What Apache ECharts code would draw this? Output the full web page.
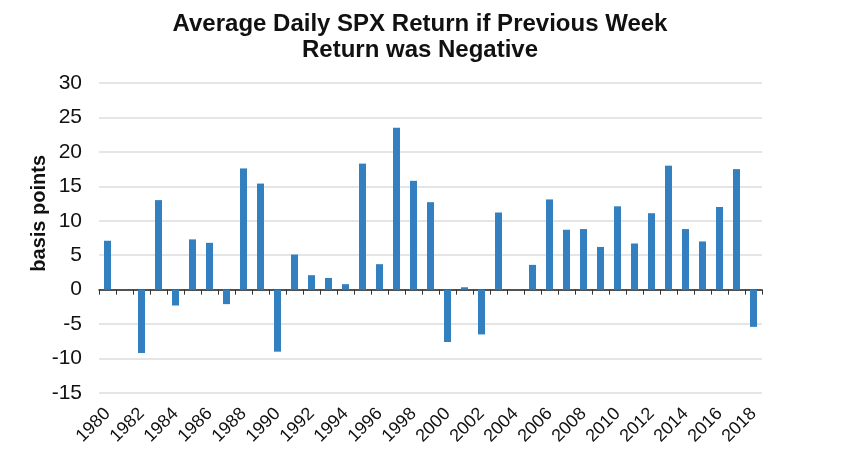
<!DOCTYPE html>
<html>
<head>
<meta charset="utf-8">
<script src="https://cdn.jsdelivr.net/npm/echarts@6/dist/echarts.min.js"></script>
<style>
  html, body { margin: 0; padding: 0; background: #fff; }
  #chart { width: 860px; height: 450px; }
</style>
</head>
<body>
<div id="chart"></div>
<script>
// years on the x axis
var years = [];
for (var y = 1980; y <= 2018; y++) years.push(String(y));

// average daily return (basis points) when previous week was negative
var returns = [
  7.1, 0, -9.2, 13.0, -2.3, 7.3, 6.8, -2.1, 17.6, 15.4,
  -9.0, 5.1, 2.1, 1.7, 0.8, 18.3, 3.7, 23.5, 15.8, 12.7,
  -7.6, 0.35, -6.5, 11.2, 0, 3.6, 13.1, 8.7, 8.8, 6.2,
  12.1, 6.7, 11.1, 18.0, 8.8, 7.0, 12.0, 17.5, -5.4
];

var yTicks = { min: -15, max: 30, step: 5 };

var chart = echarts.init(document.getElementById("chart"));

var option = {
  animation: false,
  title: {
    text: "Average Daily SPX Return if Previous Week\nReturn was Negative",
    left: 415,
    top: 6,
    textAlign: "center",
    textStyle: {
      fontFamily: "Liberation Sans, Arial",
      fontSize: 24,
      fontWeight: "bold",
      color: "#111",
      lineHeight: 26
    }
  },
  grid: { left: 99, right: 98, top: 83, bottom: 57 },
  //两个x轴：一个在0处画轴线和刻度，一个在底部画标签
  xAxis: [
    {
      type: "category",
      data: years,
      axisLine: { onZero: true, lineStyle: { color: "#222", width: 1.5 } },
      axisTick: { show: true, interval: 0, length: 5, lineStyle: { color: "#333" } },
      axisLabel: { show: false },
      splitLine: { show: false }
    },
    {
      type: "category",
      data: years,
      position: "bottom",
      axisLine: { show: false, onZero: false },
      axisTick: { show: false },
      axisLabel: {
        interval: 1,
        rotate: 45,
        margin: 18,
        fontFamily: "Liberation Sans, Arial",
        fontSize: 18,
        color: "#111"
      }
    }
  ],
  yAxis: {
    type: "value",
    min: yTicks.min,
    max: yTicks.max,
    interval: yTicks.step,
    axisLine: { show: false },
    axisTick: { show: false },
    axisLabel: {
      margin: 17,
      fontFamily: "Liberation Sans, Arial",
      fontSize: 21,
      color: "#111"
    },
    splitLine: { lineStyle: { color: "#dcdcdc", width: 1.5 } }
  },
  graphic: [
    {
      type: "text",
      left: 29,
      top: 155,
      rotation: Math.PI / 2,
      style: {
        text: "basis points",
        fontFamily: "Liberation Sans, Arial",
        fontSize: 20,
        fontWeight: "bold",
        fill: "#111",
        textAlign: "center",
        textVerticalAlign: "middle"
      }
    }
  ],
  series: [
    {
      type: "bar",
      xAxisIndex: 0,
      data: returns,
      barWidth: 7,
      itemStyle: { color: "#3380c0" }
    }
  ]
};

chart.setOption(option);
</script>
</body>
</html>
